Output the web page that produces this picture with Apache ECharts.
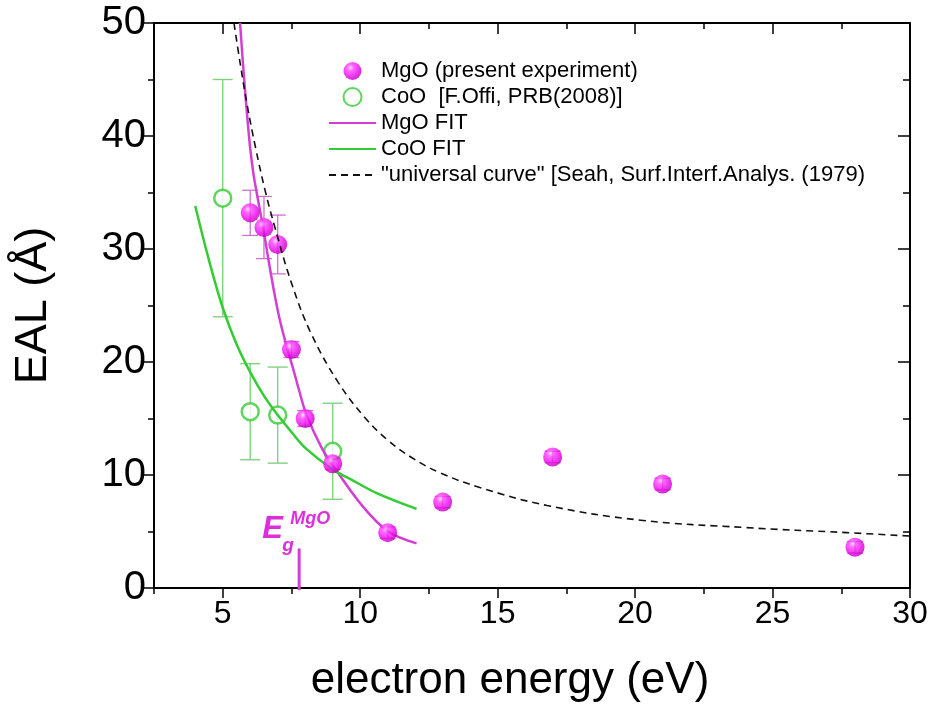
<!DOCTYPE html>
<html>
<head>
<meta charset="utf-8">
<script src="https://cdn.jsdelivr.net/npm/echarts@6/dist/echarts.min.js"></script>
<style>
  html, body { margin: 0; padding: 0; background: #fff; }
  #chart { width: 934px; height: 720px; }
</style>
</head>
<body>
<div id="chart"></div>
<script>
// MgO, present experiment
var mgoEnergy = [6, 6.5, 7, 7.5, 8, 9, 11, 13, 17, 21, 28];
var mgoEal = [33.2, 31.9, 30.4, 21.1, 15.0, 11.0, 4.9, 7.6, 11.6, 9.2, 3.6];
var mgoErr = [2.0, 2.75, 2.6, 0.7, 0.7, 0.5, 0.5, 0.5, 0.5, 0.5, 0.5];

// CoO, F.Offi PRB 2008
var cooEnergy = [5, 6, 7, 9];
var cooEal = [34.5, 15.6, 15.3, 12.1];
var cooErr = [10.5, 4.25, 4.25, 4.25];

// fitted curves
var mgoFit = [[5.63, 50], [5.78, 45], [5.9, 41.5], [6.0, 38.9], [6.12, 36.6], [6.25, 34.8],
  [6.47, 31.9], [6.66, 29.1], [6.84, 26.6], [7.05, 24.0], [7.3, 21.6], [7.55, 19.5],
  [7.8, 17.3], [8.05, 15.3], [8.6, 12.4], [9.05, 10.7], [10.1, 7.2], [11.02, 5.0], [12.05, 3.95]];
var cooFit = [[4.0, 33.8], [4.5, 29.0], [5.0, 24.8], [5.5, 21.6], [6.0, 19.1], [6.5, 17.0],
  [7.0, 15.3], [7.5, 13.8], [8.0, 12.4], [9.0, 10.5], [9.74, 9.5], [10.6, 8.4], [12.05, 7.0]];
var universal = [[5.41, 50], [5.63, 46.5], [5.9, 42.6], [6.2, 38.9], [6.55, 35.1], [6.9, 31.9],
  [7.5, 27.0], [8.2, 22.6], [9.2, 18.2], [10.2, 15.0], [11.0, 13.1], [11.9, 11.5], [12.9, 10.2],
  [14.35, 8.9], [16.8, 7.3], [20.2, 6.0], [24.0, 5.35], [27.7, 4.9], [30, 4.6]];

// band gap marker
var egEnergy = 7.78;
var egTop = 3.5;

// ticks
var xMajor = [5, 10, 15, 20, 25, 30];
var xMinor = [2.5, 7.5, 12.5, 17.5, 22.5, 27.5];

var names = ['MgO (present experiment)', 'CoO  [F.Offi, PRB(2008)]', 'MgO FIT', 'CoO FIT',
  '"universal curve" [Seah, Surf.Interf.Analys. (1979)'];

var FONT = 'Liberation Sans, Arial, sans-serif';
var MAG = '#d23fd2';
var GREEN = '#33cc33';

function zip(xs, ys) {
  return xs.map(function (x, i) { return [x, ys[i]]; });
}
function errData(xs, ys, es) {
  return xs.map(function (x, i) { return [x, ys[i] - es[i], ys[i] + es[i]]; });
}
function errRender(color, cap, width) {
  return function (params, api) {
    var x = api.value(0);
    var lo = api.coord([x, api.value(1)]);
    var hi = api.coord([x, api.value(2)]);
    var st = { stroke: color, lineWidth: width };
    return {
      type: 'group',
      children: [
        { type: 'line', shape: { x1: lo[0], y1: lo[1], x2: hi[0], y2: hi[1] }, style: st },
        { type: 'line', shape: { x1: lo[0] - cap, y1: lo[1], x2: lo[0] + cap, y2: lo[1] }, style: st },
        { type: 'line', shape: { x1: hi[0] - cap, y1: hi[1], x2: hi[0] + cap, y2: hi[1] }, style: st }
      ]
    };
  };
}

var axisLine = { show: true, lineStyle: { color: '#000', width: 2 } };
var tickStyle = { color: '#000', width: 1.5 };

function xAx(pos, ticks, len, inside, main) {
  return {
    type: 'value', min: 2.5, max: 30, position: pos,
    axisLine: main ? axisLine : { show: false },
    axisTick: { show: true, customValues: ticks, length: len, inside: inside, lineStyle: tickStyle },
    axisLabel: main && pos === 'bottom'
      ? { show: true, customValues: xMajor, fontSize: 32, fontFamily: FONT, color: '#000', margin: 10 }
      : { show: false },
    splitLine: { show: false },
    name: main && pos === 'bottom' ? 'electron energy (eV)' : '',
    nameLocation: 'middle', nameGap: 71,
    nameTextStyle: { fontSize: 44, fontFamily: FONT, color: '#000', padding: [0, 44, 0, 0] }
  };
}

// line entries in the legend show only the line
function legendItem(name, i) {
  return i < 2 ? { name: name } : { name: name, itemStyle: { opacity: 0, borderWidth: 0 } };
}

var chart = echarts.init(document.getElementById('chart'));
chart.setOption({
  animation: false,
  backgroundColor: '#fff',
  grid: { left: 154, right: 24, top: 23, bottom: 132 },
  xAxis: [
    xAx('bottom', xMajor, 10, false, true),
    xAx('bottom', xMinor, 6, false, false),
    xAx('top', xMajor, 11, true, true),
    xAx('top', xMinor, 6, true, false)
  ],
  yAxis: [
    {
      type: 'value', min: 0, max: 50, interval: 10, position: 'left',
      axisLine: axisLine,
      axisTick: { show: true, length: 10, lineStyle: tickStyle },
      minorTick: { show: true, splitNumber: 2, length: 6, lineStyle: tickStyle },
      axisLabel: { fontSize: 40, fontFamily: FONT, color: '#000', margin: 8 },
      splitLine: { show: false },
      name: 'EAL (Å)', nameLocation: 'middle', nameGap: 98,
      nameTextStyle: { fontSize: 45, fontFamily: FONT, color: '#000' }
    },
    {
      type: 'value', min: 0, max: 50, interval: 10, position: 'right',
      axisLine: axisLine,
      axisTick: { show: true, inside: true, length: 12, lineStyle: tickStyle },
      minorTick: { show: true, splitNumber: 2, length: 7, lineStyle: tickStyle },
      axisLabel: { show: false },
      splitLine: { show: false }
    }
  ],
  legend: {
    data: names.map(legendItem),
    orient: 'vertical',
    left: 323, top: 55,
    itemWidth: 47, itemHeight: 18, itemGap: 4,
    textStyle: { fontSize: 22, fontFamily: FONT, color: '#000' },
    selectedMode: false
  },
  series: [
    {
      type: 'custom', name: 'cooErr', z: 1, silent: true,
      renderItem: errRender('#7fd37f', 10, 1.4),
      data: errData(cooEnergy, cooEal, cooErr)
    },
    {
      type: 'custom', name: 'mgoErr', z: 1, silent: true,
      renderItem: errRender('#cf70cf', 8, 1.3),
      data: errData(mgoEnergy, mgoEal, mgoErr)
    },
    {
      type: 'scatter', name: names[1], z: 2,
      symbol: 'circle', symbolSize: 17,
      itemStyle: { color: '#fff', borderColor: GREEN, borderWidth: 2.5 },
      data: zip(cooEnergy, cooEal)
    },
    {
      type: 'line', name: names[2], z: 3, symbol: 'none', smooth: 0.35,
      lineStyle: { color: MAG, width: 2.5 }, itemStyle: { color: MAG },
      data: mgoFit
    },
    {
      type: 'line', name: names[3], z: 3, symbol: 'none', smooth: 0.35,
      lineStyle: { color: GREEN, width: 2.5 }, itemStyle: { color: GREEN },
      data: cooFit
    },
    {
      type: 'scatter', name: names[0], z: 4,
      symbol: 'circle', symbolSize: 19,
      itemStyle: {
        color: {
          type: 'radial', x: 0.38, y: 0.32, r: 0.72,
          colorStops: [
            { offset: 0, color: '#ffd0ff' },
            { offset: 0.25, color: '#ff44ff' },
            { offset: 0.7, color: '#e800e8' },
            { offset: 1, color: '#b400b4' }
          ]
        }
      },
      data: zip(mgoEnergy, mgoEal)
    },
    {
      type: 'line', name: names[4], z: 5, symbol: 'none', smooth: 0.4,
      lineStyle: { color: '#111', width: 1.6, type: [7, 5] }, itemStyle: { color: '#111' },
      data: universal
    },
    {
      type: 'custom', name: 'eg', z: 6, silent: true,
      renderItem: function (params, api) {
        var x = api.value(0);
        var top = api.coord([x, api.value(1)]);
        var bot = api.coord([x, 0]);
        var txt = { fill: '#dd2edd', fontFamily: FONT, fontStyle: 'italic', fontWeight: 'bold',
          verticalAlign: 'middle', align: 'left' };
        return {
          type: 'group',
          children: [
            { type: 'line', shape: { x1: top[0], y1: top[1], x2: bot[0], y2: bot[1] + 2 },
              style: { stroke: MAG, lineWidth: 3 } },
            { type: 'text', x: top[0] - 37, y: top[1] - 19,
              style: Object.assign({ text: 'E', fontSize: 31 }, txt) },
            { type: 'text', x: top[0] - 17, y: top[1] - 3,
              style: Object.assign({ text: 'g', fontSize: 19 }, txt) },
            { type: 'text', x: top[0] - 9, y: top[1] - 29,
              style: Object.assign({ text: 'MgO', fontSize: 18 }, txt) }
          ]
        };
      },
      data: [[egEnergy, egTop]]
    }
  ]
});
</script>
</body>
</html>
